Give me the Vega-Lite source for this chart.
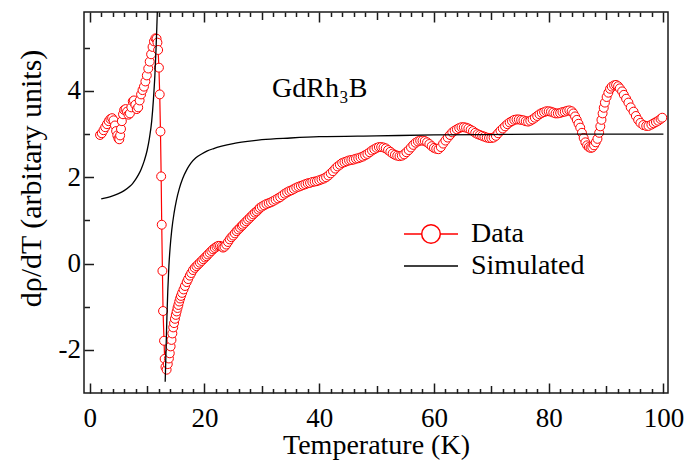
{
  "$schema": "https://vega.github.io/schema/vega-lite/v6.json",
  "width": 584,
  "height": 381,
  "autosize": {"type": "none"},
  "padding": {"left": 84, "top": 12, "right": 19, "bottom": 68},
  "config": {
    "view": {"stroke": "#1a1a1a", "strokeWidth": 1.5},
    "font": "Liberation Serif",
    "axis": {
      "domain": false, "grid": false,
      "labelFont": "Liberation Serif", "labelFontSize": 27, "labelColor": "black",
      "titleFont": "Liberation Serif", "titleFontSize": 28, "titleFontWeight": "normal", "titleColor": "black",
      "tickColor": "#1a1a1a", "tickWidth": 1.5, "labelOverlap": false, "labelFlush": false
    }
  },
  "datasets": {
    "meas": [
      {"series":"Data","T":1.8,"v":2.98},{"series":"Data","T":2.1,"v":3.02},{"series":"Data","T":2.4,"v":3.09},{"series":"Data","T":2.7,"v":3.16},
      {"series":"Data","T":3.0,"v":3.23},{"series":"Data","T":3.3,"v":3.30},{"series":"Data","T":3.6,"v":3.35},{"series":"Data","T":3.9,"v":3.37},
      {"series":"Data","T":4.15,"v":3.32},{"series":"Data","T":4.4,"v":3.20},{"series":"Data","T":4.6,"v":3.07},{"series":"Data","T":4.8,"v":2.97},
      {"series":"Data","T":5.0,"v":2.90},{"series":"Data","T":5.15,"v":2.88},{"series":"Data","T":5.3,"v":2.97},{"series":"Data","T":5.45,"v":3.12},
      {"series":"Data","T":5.6,"v":3.30},{"series":"Data","T":5.8,"v":3.46},{"series":"Data","T":6.0,"v":3.56},{"series":"Data","T":6.25,"v":3.58},
      {"series":"Data","T":6.5,"v":3.52},{"series":"Data","T":6.75,"v":3.45},{"series":"Data","T":7.0,"v":3.48},{"series":"Data","T":7.25,"v":3.62},
      {"series":"Data","T":7.5,"v":3.76},{"series":"Data","T":7.7,"v":3.78},{"series":"Data","T":7.95,"v":3.68},{"series":"Data","T":8.2,"v":3.58},
      {"series":"Data","T":8.45,"v":3.62},{"series":"Data","T":8.7,"v":3.78},{"series":"Data","T":8.95,"v":3.92},{"series":"Data","T":9.2,"v":4.02},
      {"series":"Data","T":9.45,"v":4.10},{"series":"Data","T":9.7,"v":4.22},{"series":"Data","T":9.95,"v":4.36},{"series":"Data","T":10.2,"v":4.52},
      {"series":"Data","T":10.45,"v":4.68},{"series":"Data","T":10.7,"v":4.85},{"series":"Data","T":10.95,"v":5.02},{"series":"Data","T":11.2,"v":5.15},
      {"series":"Data","T":11.45,"v":5.22},{"series":"Data","T":11.65,"v":5.21},{"series":"Data","T":11.8,"v":5.12},{"series":"Data","T":11.92,"v":4.95},
      {"series":"Data","T":12.06,"v":4.54},{"series":"Data","T":12.2,"v":3.92},{"series":"Data","T":12.33,"v":3.06},{"series":"Data","T":12.45,"v":2.02},
      {"series":"Data","T":12.55,"v":0.90},{"series":"Data","T":12.67,"v":-0.17},{"series":"Data","T":12.78,"v":-1.10},{"series":"Data","T":12.95,"v":-1.79},
      {"series":"Data","T":13.06,"v":-2.21},{"series":"Data","T":13.2,"v":-2.40},{"series":"Data","T":13.4,"v":-2.46},{"series":"Data","T":13.6,"v":-2.33},
      {"series":"Data","T":13.8,"v":-2.20},{"series":"Data","T":13.95,"v":-2.08},{"series":"Data","T":14.1,"v":-1.92},{"series":"Data","T":14.25,"v":-1.77},
      {"series":"Data","T":14.4,"v":-1.62},{"series":"Data","T":14.55,"v":-1.48},{"series":"Data","T":14.7,"v":-1.38},{"series":"Data","T":14.85,"v":-1.28},
      {"series":"Data","T":15.0,"v":-1.19},{"series":"Data","T":15.15,"v":-1.11},{"series":"Data","T":15.3,"v":-1.03},{"series":"Data","T":15.45,"v":-0.96},
      {"series":"Data","T":15.6,"v":-0.88},{"series":"Data","T":15.75,"v":-0.81},{"series":"Data","T":15.9,"v":-0.75},{"series":"Data","T":16.1,"v":-0.68},
      {"series":"Data","T":16.35,"v":-0.60},{"series":"Data","T":16.6,"v":-0.52},{"series":"Data","T":16.9,"v":-0.43},{"series":"Data","T":17.15,"v":-0.36},
      {"series":"Data","T":17.45,"v":-0.28},{"series":"Data","T":17.7,"v":-0.22},{"series":"Data","T":18.0,"v":-0.15},{"series":"Data","T":18.3,"v":-0.10},
      {"series":"Data","T":18.6,"v":-0.06},{"series":"Data","T":18.9,"v":-0.02},{"series":"Data","T":19.2,"v":0.02},{"series":"Data","T":19.5,"v":0.06},
      {"series":"Data","T":19.8,"v":0.10},{"series":"Data","T":20.1,"v":0.14},{"series":"Data","T":20.35,"v":0.17},{"series":"Data","T":20.6,"v":0.21},
      {"series":"Data","T":20.9,"v":0.25},{"series":"Data","T":21.2,"v":0.29},{"series":"Data","T":21.5,"v":0.33},{"series":"Data","T":21.8,"v":0.36},
      {"series":"Data","T":22.1,"v":0.39},{"series":"Data","T":22.4,"v":0.41},{"series":"Data","T":22.7,"v":0.41},{"series":"Data","T":23.0,"v":0.39},
      {"series":"Data","T":23.25,"v":0.37},{"series":"Data","T":23.5,"v":0.39},{"series":"Data","T":23.8,"v":0.44},{"series":"Data","T":24.1,"v":0.50},
      {"series":"Data","T":24.4,"v":0.56},{"series":"Data","T":24.7,"v":0.61},{"series":"Data","T":25.0,"v":0.65},{"series":"Data","T":25.3,"v":0.70},
      {"series":"Data","T":25.6,"v":0.75},{"series":"Data","T":25.9,"v":0.79},{"series":"Data","T":26.2,"v":0.83},{"series":"Data","T":26.5,"v":0.87},
      {"series":"Data","T":26.7,"v":0.90},{"series":"Data","T":27.0,"v":0.94},{"series":"Data","T":27.3,"v":0.98},{"series":"Data","T":27.6,"v":1.02},
      {"series":"Data","T":27.9,"v":1.06},{"series":"Data","T":28.2,"v":1.10},{"series":"Data","T":28.5,"v":1.14},{"series":"Data","T":28.8,"v":1.18},
      {"series":"Data","T":29.1,"v":1.21},{"series":"Data","T":29.4,"v":1.25},{"series":"Data","T":29.65,"v":1.29},{"series":"Data","T":30.0,"v":1.32},
      {"series":"Data","T":30.4,"v":1.35},{"series":"Data","T":30.8,"v":1.38},{"series":"Data","T":31.2,"v":1.40},{"series":"Data","T":31.6,"v":1.42},
      {"series":"Data","T":32.0,"v":1.45},{"series":"Data","T":32.4,"v":1.48},{"series":"Data","T":32.8,"v":1.51},{"series":"Data","T":33.2,"v":1.54},
      {"series":"Data","T":33.6,"v":1.58},{"series":"Data","T":34.0,"v":1.62},{"series":"Data","T":34.4,"v":1.65},{"series":"Data","T":34.8,"v":1.68},
      {"series":"Data","T":35.2,"v":1.70},{"series":"Data","T":35.6,"v":1.73},{"series":"Data","T":36.0,"v":1.76},{"series":"Data","T":36.4,"v":1.78},
      {"series":"Data","T":36.8,"v":1.80},{"series":"Data","T":37.2,"v":1.82},{"series":"Data","T":37.6,"v":1.84},{"series":"Data","T":38.0,"v":1.86},
      {"series":"Data","T":38.4,"v":1.87},{"series":"Data","T":38.8,"v":1.89},{"series":"Data","T":39.2,"v":1.90},{"series":"Data","T":39.6,"v":1.91},
      {"series":"Data","T":40.0,"v":1.93},{"series":"Data","T":40.4,"v":1.95},{"series":"Data","T":40.8,"v":1.97},{"series":"Data","T":41.2,"v":2.00},
      {"series":"Data","T":41.6,"v":2.04},{"series":"Data","T":42.0,"v":2.09},{"series":"Data","T":42.4,"v":2.14},{"series":"Data","T":42.8,"v":2.20},
      {"series":"Data","T":43.2,"v":2.25},{"series":"Data","T":43.6,"v":2.29},{"series":"Data","T":44.0,"v":2.33},{"series":"Data","T":44.4,"v":2.35},
      {"series":"Data","T":44.8,"v":2.37},{"series":"Data","T":45.2,"v":2.39},{"series":"Data","T":45.6,"v":2.40},{"series":"Data","T":46.0,"v":2.41},
      {"series":"Data","T":46.4,"v":2.43},{"series":"Data","T":46.8,"v":2.44},{"series":"Data","T":47.2,"v":2.46},{"series":"Data","T":47.6,"v":2.48},
      {"series":"Data","T":48.0,"v":2.51},{"series":"Data","T":48.4,"v":2.54},{"series":"Data","T":48.8,"v":2.58},{"series":"Data","T":49.2,"v":2.62},
      {"series":"Data","T":49.6,"v":2.65},{"series":"Data","T":50.0,"v":2.68},{"series":"Data","T":50.4,"v":2.70},{"series":"Data","T":50.8,"v":2.70},
      {"series":"Data","T":51.2,"v":2.69},{"series":"Data","T":51.6,"v":2.67},{"series":"Data","T":52.0,"v":2.63},{"series":"Data","T":52.4,"v":2.59},
      {"series":"Data","T":52.8,"v":2.55},{"series":"Data","T":53.2,"v":2.52},{"series":"Data","T":53.6,"v":2.50},{"series":"Data","T":54.0,"v":2.49},
      {"series":"Data","T":54.4,"v":2.50},{"series":"Data","T":54.8,"v":2.53},{"series":"Data","T":55.2,"v":2.58},{"series":"Data","T":55.6,"v":2.63},
      {"series":"Data","T":56.0,"v":2.69},{"series":"Data","T":56.4,"v":2.75},{"series":"Data","T":56.8,"v":2.80},{"series":"Data","T":57.2,"v":2.83},
      {"series":"Data","T":57.6,"v":2.85},{"series":"Data","T":58.0,"v":2.85},{"series":"Data","T":58.4,"v":2.84},{"series":"Data","T":58.8,"v":2.81},
      {"series":"Data","T":59.2,"v":2.77},{"series":"Data","T":59.6,"v":2.72},{"series":"Data","T":60.0,"v":2.68},{"series":"Data","T":60.4,"v":2.66},
      {"series":"Data","T":60.8,"v":2.65},{"series":"Data","T":61.2,"v":2.70},{"series":"Data","T":61.6,"v":2.78},{"series":"Data","T":62.0,"v":2.85},
      {"series":"Data","T":62.4,"v":2.92},{"series":"Data","T":62.8,"v":2.98},{"series":"Data","T":63.2,"v":3.04},{"series":"Data","T":63.6,"v":3.08},
      {"series":"Data","T":64.0,"v":3.11},{"series":"Data","T":64.4,"v":3.14},{"series":"Data","T":64.8,"v":3.16},{"series":"Data","T":65.2,"v":3.16},
      {"series":"Data","T":65.6,"v":3.15},{"series":"Data","T":66.0,"v":3.13},{"series":"Data","T":66.4,"v":3.10},{"series":"Data","T":66.8,"v":3.07},
      {"series":"Data","T":67.2,"v":3.03},{"series":"Data","T":67.6,"v":3.00},{"series":"Data","T":68.0,"v":2.98},{"series":"Data","T":68.4,"v":2.96},
      {"series":"Data","T":68.8,"v":2.94},{"series":"Data","T":69.2,"v":2.92},{"series":"Data","T":69.6,"v":2.91},{"series":"Data","T":70.0,"v":2.91},
      {"series":"Data","T":70.4,"v":2.92},{"series":"Data","T":70.8,"v":2.96},{"series":"Data","T":71.2,"v":3.02},{"series":"Data","T":71.6,"v":3.08},
      {"series":"Data","T":72.0,"v":3.13},{"series":"Data","T":72.4,"v":3.18},{"series":"Data","T":72.8,"v":3.23},{"series":"Data","T":73.2,"v":3.27},
      {"series":"Data","T":73.6,"v":3.30},{"series":"Data","T":74.0,"v":3.33},{"series":"Data","T":74.4,"v":3.34},{"series":"Data","T":74.8,"v":3.34},
      {"series":"Data","T":75.2,"v":3.33},{"series":"Data","T":75.6,"v":3.32},{"series":"Data","T":76.0,"v":3.30},{"series":"Data","T":76.4,"v":3.29},
      {"series":"Data","T":76.8,"v":3.31},{"series":"Data","T":77.2,"v":3.34},{"series":"Data","T":77.6,"v":3.38},{"series":"Data","T":78.0,"v":3.42},
      {"series":"Data","T":78.4,"v":3.46},{"series":"Data","T":78.8,"v":3.49},{"series":"Data","T":79.2,"v":3.51},{"series":"Data","T":79.6,"v":3.53},
      {"series":"Data","T":80.0,"v":3.53},{"series":"Data","T":80.4,"v":3.52},{"series":"Data","T":80.8,"v":3.50},{"series":"Data","T":81.2,"v":3.48},
      {"series":"Data","T":81.6,"v":3.48},{"series":"Data","T":82.0,"v":3.49},{"series":"Data","T":82.4,"v":3.51},{"series":"Data","T":82.8,"v":3.52},
      {"series":"Data","T":83.2,"v":3.54},{"series":"Data","T":83.6,"v":3.55},{"series":"Data","T":84.0,"v":3.53},{"series":"Data","T":84.3,"v":3.48},
      {"series":"Data","T":84.6,"v":3.41},{"series":"Data","T":84.9,"v":3.33},{"series":"Data","T":85.2,"v":3.24},{"series":"Data","T":85.5,"v":3.15},
      {"series":"Data","T":85.8,"v":3.03},{"series":"Data","T":86.1,"v":2.91},{"series":"Data","T":86.4,"v":2.81},{"series":"Data","T":86.7,"v":2.74},
      {"series":"Data","T":87.0,"v":2.70},{"series":"Data","T":87.3,"v":2.68},{"series":"Data","T":87.6,"v":2.69},{"series":"Data","T":87.9,"v":2.74},
      {"series":"Data","T":88.2,"v":2.81},{"series":"Data","T":88.5,"v":2.89},{"series":"Data","T":88.8,"v":3.03},{"series":"Data","T":89.0,"v":3.18},
      {"series":"Data","T":89.2,"v":3.33},{"series":"Data","T":89.4,"v":3.48},{"series":"Data","T":89.6,"v":3.61},{"series":"Data","T":89.8,"v":3.73},
      {"series":"Data","T":90.1,"v":3.86},{"series":"Data","T":90.4,"v":3.96},{"series":"Data","T":90.7,"v":4.05},{"series":"Data","T":91.0,"v":4.10},
      {"series":"Data","T":91.4,"v":4.13},{"series":"Data","T":91.75,"v":4.14},{"series":"Data","T":92.1,"v":4.11},{"series":"Data","T":92.4,"v":4.06},
      {"series":"Data","T":92.8,"v":3.99},{"series":"Data","T":93.1,"v":3.91},{"series":"Data","T":93.5,"v":3.82},{"series":"Data","T":93.9,"v":3.73},
      {"series":"Data","T":94.3,"v":3.62},{"series":"Data","T":94.8,"v":3.52},{"series":"Data","T":95.2,"v":3.42},{"series":"Data","T":95.6,"v":3.33},
      {"series":"Data","T":96.0,"v":3.26},{"series":"Data","T":96.5,"v":3.21},{"series":"Data","T":97.0,"v":3.19},{"series":"Data","T":97.4,"v":3.19},
      {"series":"Data","T":97.9,"v":3.22},{"series":"Data","T":98.3,"v":3.25},{"series":"Data","T":98.7,"v":3.28},{"series":"Data","T":99.1,"v":3.31},
      {"series":"Data","T":99.5,"v":3.35},{"series":"Data","T":99.8,"v":3.38}
    ],
    "sim": [
      {"series":"Simulated","branch":"L","T":2.0,"v":1.50},{"series":"Simulated","branch":"L","T":3.0,"v":1.53},
      {"series":"Simulated","branch":"L","T":4.0,"v":1.57},{"series":"Simulated","branch":"L","T":5.0,"v":1.62},
      {"series":"Simulated","branch":"L","T":6.0,"v":1.69},{"series":"Simulated","branch":"L","T":7.0,"v":1.79},
      {"series":"Simulated","branch":"L","T":7.5,"v":1.86},{"series":"Simulated","branch":"L","T":8.0,"v":1.95},
      {"series":"Simulated","branch":"L","T":8.5,"v":2.06},{"series":"Simulated","branch":"L","T":9.0,"v":2.20},
      {"series":"Simulated","branch":"L","T":9.5,"v":2.38},{"series":"Simulated","branch":"L","T":10.0,"v":2.62},
      {"series":"Simulated","branch":"L","T":10.4,"v":2.90},{"series":"Simulated","branch":"L","T":10.8,"v":3.30},
      {"series":"Simulated","branch":"L","T":11.1,"v":3.80},{"series":"Simulated","branch":"L","T":11.35,"v":4.35},
      {"series":"Simulated","branch":"L","T":11.55,"v":4.95},{"series":"Simulated","branch":"L","T":11.7,"v":5.50},
      {"series":"Simulated","branch":"L","T":11.8,"v":5.95},{"series":"Simulated","branch":"L","T":11.85,"v":6.3},
      {"series":"Simulated","branch":"R","T":13.15,"v":-2.74},{"series":"Simulated","branch":"R","T":13.3,"v":-2.0},
      {"series":"Simulated","branch":"R","T":13.45,"v":-1.25},{"series":"Simulated","branch":"R","T":13.6,"v":-0.65},
      {"series":"Simulated","branch":"R","T":13.8,"v":-0.05},{"series":"Simulated","branch":"R","T":14.0,"v":0.35},
      {"series":"Simulated","branch":"R","T":14.3,"v":0.78},{"series":"Simulated","branch":"R","T":14.7,"v":1.17},
      {"series":"Simulated","branch":"R","T":15.1,"v":1.46},{"series":"Simulated","branch":"R","T":15.6,"v":1.73},
      {"series":"Simulated","branch":"R","T":16.2,"v":1.97},{"series":"Simulated","branch":"R","T":16.9,"v":2.17},
      {"series":"Simulated","branch":"R","T":17.6,"v":2.32},{"series":"Simulated","branch":"R","T":18.5,"v":2.45},
      {"series":"Simulated","branch":"R","T":19.5,"v":2.54},{"series":"Simulated","branch":"R","T":20.5,"v":2.61},
      {"series":"Simulated","branch":"R","T":21.5,"v":2.66},{"series":"Simulated","branch":"R","T":23.0,"v":2.72},
      {"series":"Simulated","branch":"R","T":25.0,"v":2.78},{"series":"Simulated","branch":"R","T":27.5,"v":2.83},
      {"series":"Simulated","branch":"R","T":30.0,"v":2.87},{"series":"Simulated","branch":"R","T":35.0,"v":2.91},
      {"series":"Simulated","branch":"R","T":40.0,"v":2.94},{"series":"Simulated","branch":"R","T":50.0,"v":2.96},
      {"series":"Simulated","branch":"R","T":60.0,"v":2.98},{"series":"Simulated","branch":"R","T":70.0,"v":2.99},
      {"series":"Simulated","branch":"R","T":80.0,"v":3.0},{"series":"Simulated","branch":"R","T":90.0,"v":3.0},
      {"series":"Simulated","branch":"R","T":100.0,"v":3.0}
    ]
  },
  "encoding": {
    "x": {
      "field": "T", "type": "quantitative",
      "scale": {"domain": [-1, 100.8], "nice": false, "zero": false},
      "axis": {
        "orient": "bottom",
        "values": [0,2,4,6,8,10,12,14,16,18,20,22,24,26,28,30,32,34,36,38,40,42,44,46,48,50,52,54,56,58,60,62,64,66,68,70,72,74,76,78,80,82,84,86,88,90,92,94,96,98,100],
        "labelExpr": "datum.value % 20 === 0 ? '' + datum.value : ''",
        "tickSize": {"condition": [{"test": "datum.value % 20 === 0", "value": -10}, {"test": "datum.value % 10 === 0", "value": -7.5}], "value": -4.5},
        "labelPadding": 22,
        "title": "Temperature (K)",
        "titleY": 38,
        "titleBaseline": "top"
      }
    },
    "y": {
      "field": "v", "type": "quantitative",
      "scale": {"domain": [-3, 5.83], "nice": false, "zero": false},
      "axis": {
        "values": [-2,-1,0,1,2,3,4,5],
        "labelExpr": "datum.value % 2 === 0 ? '' + datum.value : ''",
        "tickSize": {"condition": {"test": "datum.value % 2 === 0", "value": -9.5}, "value": -5.5},
        "labelPadding": 13,
        "title": "dρ/dT (arbitary units)",
        "titleFontSize": 30,
        "titleX": -38,
        "titleY": 166,
        "titleAngle": -90,
        "titleAlign": "center",
        "titleBaseline": "bottom"
      }
    }
  },
  "layer": [
    {
      "data": {"name": "meas"},
      "mark": {"type": "line", "strokeWidth": 1.2, "clip": true},
      "encoding": {
        "color": {
          "field": "series", "type": "nominal",
          "scale": {"domain": ["Data", "Simulated"], "range": ["#ff0000", "#000000"]},
          "legend": {
            "title": null, "orient": "none", "legendX": 331, "legendY": 206, "padding": 0,
            "symbolSize": 900, "symbolStrokeWidth": 1.5,
            "labelFont": "Liberation Serif", "labelFontSize": 28, "labelColor": "black", "labelOffset": 24, "rowPadding": 2,
            "encode": {"symbols": {"update": {
              "shape": {"signal": "datum.value === 'Data' ? 'M-1.8,0L-0.62,0M0.62,0L1.8,0M0.62,0A0.62,0.62,0,1,1,-0.62,0A0.62,0.62,0,1,1,0.62,0Z' : 'M-1.8,0L1.8,0'"},
              "fill": {"value": "white"}
            }}}
          }
        }
      }
    },
    {
      "data": {"name": "meas"},
      "mark": {"type": "point", "shape": "circle", "filled": false, "fill": "white", "stroke": "#ff0000", "strokeWidth": 1, "size": 80, "opacity": 1, "clip": true},
      "encoding": {
        "x": {"field": "T", "type": "quantitative", "scale": {"domain": [-1, 100.8], "nice": false, "zero": false}, "axis": null}
      }
    },
    {
      "data": {"name": "sim"},
      "mark": {"type": "line", "strokeWidth": 1.3, "clip": true, "interpolate": "monotone"},
      "encoding": {
        "x": {
          "field": "T", "type": "quantitative",
          "scale": {"domain": [-1, 100.8], "nice": false, "zero": false},
          "axis": {
            "orient": "top",
            "values": [0,2,4,6,8,10,12,14,16,18,20,22,24,26,28,30,32,34,36,38,40,42,44,46,48,50,52,54,56,58,60,62,64,66,68,70,72,74,76,78,80,82,84,86,88,90,92,94,96,98,100],
            "labels": false,
            "tickSize": {"condition": [{"test": "datum.value % 20 === 0", "value": -10}, {"test": "datum.value % 10 === 0", "value": -7.5}], "value": -4.5},
            "title": null
          }
        },
        "detail": {"field": "branch", "type": "nominal"},
        "color": {
          "field": "series", "type": "nominal",
          "scale": {"domain": ["Data", "Simulated"], "range": ["#ff0000", "#000000"]},
          "legend": {
            "title": null, "orient": "none", "legendX": 331, "legendY": 206, "padding": 0,
            "symbolSize": 900, "symbolStrokeWidth": 1.5,
            "labelFont": "Liberation Serif", "labelFontSize": 28, "labelColor": "black", "labelOffset": 24, "rowPadding": 2,
            "encode": {"symbols": {"update": {
              "shape": {"signal": "datum.value === 'Data' ? 'M-1.8,0L-0.62,0M0.62,0L1.8,0M0.62,0A0.62,0.62,0,1,1,-0.62,0A0.62,0.62,0,1,1,0.62,0Z' : 'M-1.8,0L1.8,0'"},
              "fill": {"value": "white"}
            }}}
          }
        }
      }
    },
    {
      "data": {"values": [{"T": 40.1, "v": 3.86, "label": "GdRh₃B"}]},
      "mark": {"type": "text", "font": "Liberation Serif", "fontSize": 28, "align": "center", "baseline": "alphabetic", "color": "black"},
      "encoding": {
        "x": {"field": "T", "type": "quantitative", "scale": {"domain": [-1, 100.8], "nice": false, "zero": false}, "axis": null},
        "text": {"field": "label"}
      }
    }
  ],
  "resolve": {"axis": {"x": "independent"}}
}
